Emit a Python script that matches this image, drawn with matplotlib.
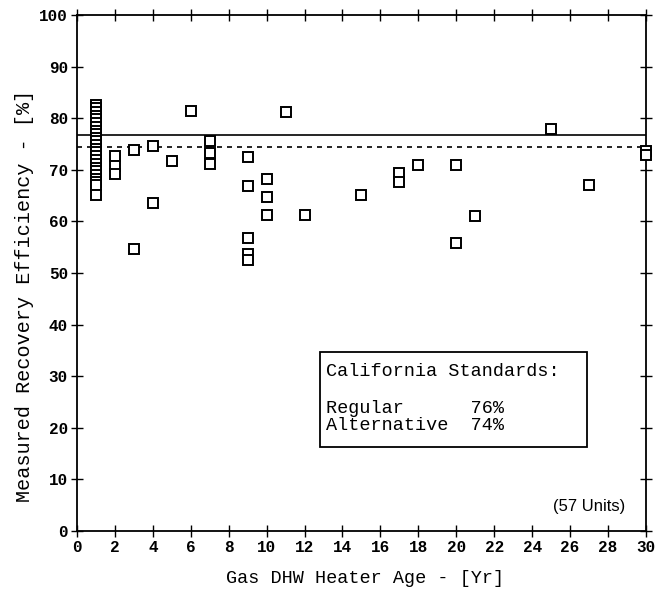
import matplotlib
matplotlib.use("Agg")
import matplotlib.pyplot as plt
from matplotlib.patches import Rectangle

# Data
age_1 = [1] * 24
eff_1 = [82.6, 81.9, 81.2, 80.5, 79.8, 79.0, 78.3, 77.6, 76.9, 76.2, 75.5, 74.8,
         74.1, 73.4, 72.6, 71.9, 71.2, 70.4, 69.7, 69.0, 68.3, 67.6, 67.0, 65.2]
age_other = [2, 2, 2, 3, 3, 4, 4, 5, 6, 7, 7, 7, 9, 9, 9, 9, 9, 10, 10, 10,
             11, 12, 15, 17, 17, 18, 20, 20, 21, 25, 27, 30, 30]
eff_other = [72.6, 70.8, 69.2, 73.8, 54.6, 74.6, 63.6, 71.7, 81.4, 75.6, 73.2, 71.2,
             72.5, 66.9, 56.8, 53.6, 52.6, 68.2, 64.8, 61.2, 81.2, 61.2, 65.2, 69.4,
             67.7, 70.9, 70.9, 55.9, 61.0, 77.9, 67.0, 73.6, 72.8]
ages = age_1 + age_other
effs = eff_1 + eff_other

regular_std = 76.7
alternative_std = 74.5

xticks = list(range(0, 31, 2))
yticks = list(range(0, 101, 10))

mono = "Liberation Mono"

fig = plt.figure(figsize=(6.67, 5.9), dpi=100)
ax = fig.add_axes([0.1154, 0.1, 0.853, 0.8746])

ax.plot(ages, effs, linestyle="none", marker="s", markersize=6.8,
        markerfacecolor="white", markeredgecolor="black", markeredgewidth=1.4,
        zorder=3, clip_on=False)
ax.axhline(regular_std, color="black", linewidth=1.2, zorder=2)
ax.axhline(alternative_std, color="black", linewidth=1.2, linestyle=(0, (3, 3)), zorder=2)

ax.set_xlim(0, 30)
ax.set_ylim(0, 100)
ax.set_xticks(xticks)
ax.set_yticks(yticks)
ax.tick_params(direction="inout", length=9, width=1.0, top=True, right=True,
               labelsize=11.5, pad=2)
for lbl in ax.get_xticklabels() + ax.get_yticklabels():
    lbl.set_fontfamily(mono)
    lbl.set_fontweight("bold")
for sp in ax.spines.values():
    sp.set_linewidth(1.3)

ax.text(0.506, -0.093, "Gas DHW Heater Age - [Yr]", transform=ax.transAxes,
        fontfamily=mono, fontsize=13.3, ha="center", va="center")
ax.text(-0.0925, 0.455, "Measured Recovery Efficiency - [%]", transform=ax.transAxes,
        fontfamily=mono, fontsize=14.5, ha="center", va="center", rotation=90)

# Standards box
ax.add_patch(Rectangle((12.8, 16.3), 14.1, 18.4, facecolor="white", edgecolor="black",
                       linewidth=1.3, zorder=4))
ax.text(13.15, 31.0, "California Standards:", fontfamily=mono, fontsize=13.3,
        ha="left", va="center", zorder=5)
ax.text(13.15, 23.8, "Regular      76%", fontfamily=mono, fontsize=13.3,
        ha="left", va="center", zorder=5)
ax.text(13.15, 20.5, "Alternative  74%", fontfamily=mono, fontsize=13.3,
        ha="left", va="center", zorder=5)

ax.text(28.9, 4.8, "(57 Units)", fontfamily="Liberation Sans", fontsize=12,
        ha="right", va="center")

fig.savefig("out.png", dpi=100)
